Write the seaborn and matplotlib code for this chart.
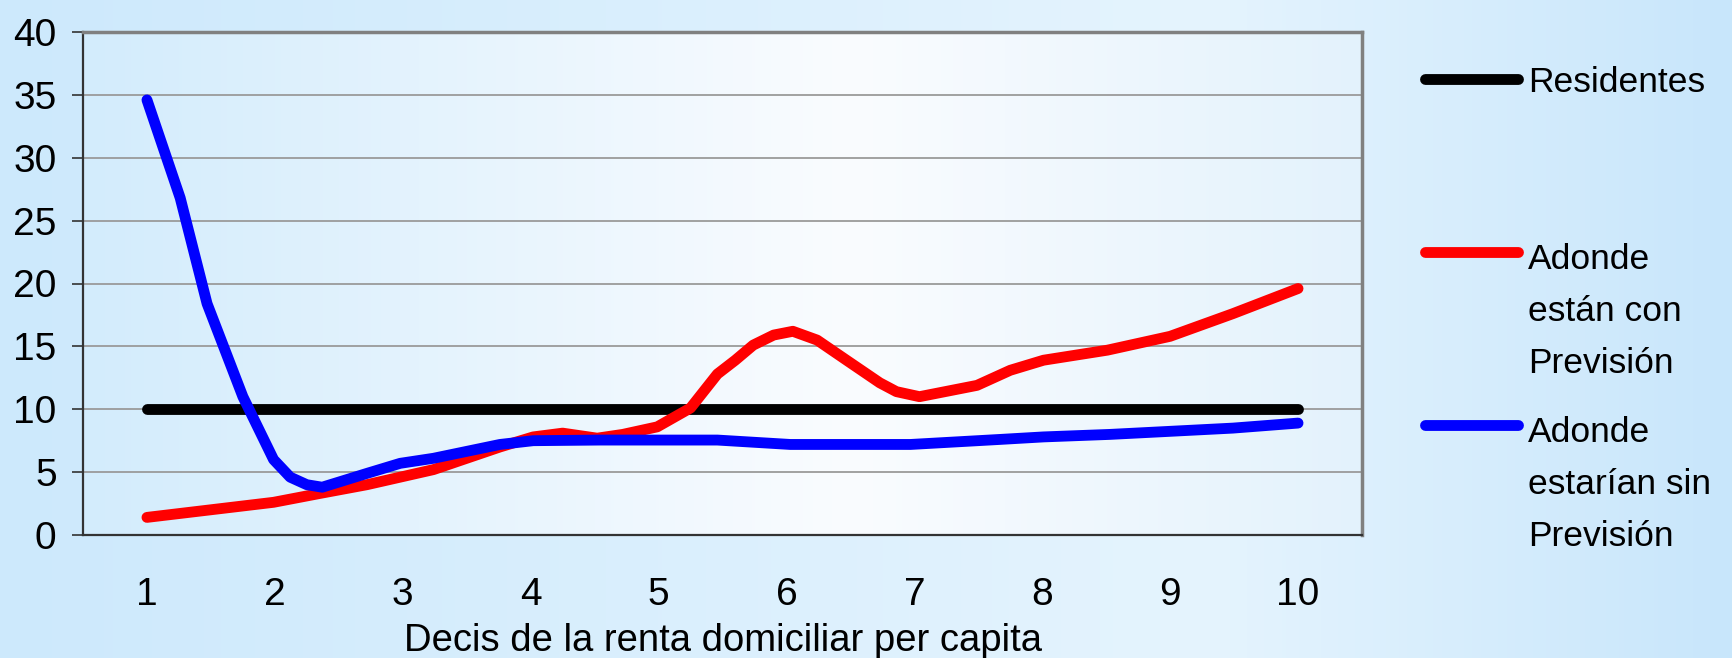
import numpy as np
import pandas as pd
import matplotlib
matplotlib.use("Agg")
import matplotlib.pyplot as plt
import seaborn as sns
from matplotlib.lines import Line2D

# ---------------- data ----------------
decile_ticks = list(range(1, 11))
decile_labels = [str(d) for d in decile_ticks]
y_ticks = [0, 5, 10, 15, 20, 25, 30, 35, 40]

series_names = ["Residentes", "Adonde están con Previsión", "Adonde estarían sin Previsión"]
legend_lines = [["Residentes"], ["Adonde", "están con", "Previsión"],
                ["Adonde", "estarían sin", "Previsión"]]
series_colors = ["#000000", "#FF0000", "#0000FF"]

residentes_x = [1, 2, 3, 4, 5, 6, 7, 8, 9, 10]
residentes_y = [10, 10, 10, 10, 10, 10, 10, 10, 10, 10]

con_x = [1.00, 1.99, 2.35, 2.72, 2.98, 3.24, 3.76, 4.02, 4.25, 4.52, 4.72, 4.99, 5.25,
         5.46, 5.60, 5.74, 5.90, 6.05, 6.24, 6.47, 6.73, 6.86, 7.04, 7.49, 7.75, 8.01,
         8.51, 9.00, 9.49, 10.0]
con_y = [1.4, 2.6, 3.3, 4.0, 4.6, 5.2, 7.0, 7.8, 8.1, 7.7, 8.0, 8.6, 10.1,
         12.8, 13.9, 15.1, 15.9, 16.2, 15.5, 13.9, 12.1, 11.4, 11.0, 11.9, 13.1, 13.9,
         14.7, 15.8, 17.6, 19.6]

sin_x = [1.00, 1.26, 1.47, 1.75, 1.99, 2.12, 2.25, 2.37, 2.72, 2.98, 3.24, 3.76, 4.02,
         4.54, 5.46, 6.03, 6.97, 7.67, 8.01, 8.53, 9.49, 10.0]
sin_y = [34.6, 26.8, 18.4, 11.0, 6.0, 4.6, 4.0, 3.8, 4.9, 5.7, 6.1, 7.2, 7.5,
         7.55, 7.55, 7.2, 7.2, 7.6, 7.8, 8.0, 8.5, 8.9]

x_title = "Decis de la renta domiciliar per capita"

df = pd.concat([
    pd.DataFrame({"decil": residentes_x, "valor": residentes_y, "serie": series_names[0]}),
    pd.DataFrame({"decil": con_x, "valor": con_y, "serie": series_names[1]}),
    pd.DataFrame({"decil": sin_x, "valor": sin_y, "serie": series_names[2]}),
], ignore_index=True)

# ---------------- style ----------------
sns.set_style("white")
plt.rcParams["font.family"] = ["Liberation Sans", "DejaVu Sans"]
plt.rcParams["text.color"] = "black"
plt.rcParams["xtick.color"] = "black"
plt.rcParams["ytick.color"] = "black"
plt.rcParams["axes.labelcolor"] = "black"

W, H = 1732, 658
fig = plt.figure(figsize=(W / 100, H / 100), dpi=100)

# figure background gradient
bg = fig.add_axes([0, 0, 1, 1], zorder=-10)
xs = np.linspace(0, 1, 400)
c0 = np.array([205, 233, 252]) / 255
c1 = np.array([229, 244, 254]) / 255
c2 = np.array([200, 230, 251]) / 255
cols = np.where(xs[:, None] < 0.7,
                c0 + (c1 - c0) * (xs[:, None] / 0.7),
                c1 + (c2 - c1) * ((xs[:, None] - 0.7) / 0.3))
bg.imshow(cols[None, :, :], extent=[0, 1, 0, 1], aspect="auto")
bg.set_axis_off()

ax = fig.add_axes([83 / W, 1 - 535 / H, (1362 - 83) / W, (535 - 32) / H])
ax.patch.set_visible(False)

# plot area gradient
pa0 = np.array([211, 236, 252]) / 255
pa1 = np.array([250, 252, 255]) / 255
pa2 = np.array([227, 242, 252]) / 255
cols2 = np.where(xs[:, None] < 0.6,
                 pa0 + (pa1 - pa0) * (xs[:, None] / 0.6),
                 pa1 + (pa2 - pa1) * ((xs[:, None] - 0.6) / 0.4))
ax.imshow(cols2[None, :, :], extent=[0, 1, 0, 1], aspect="auto",
          transform=ax.transAxes, zorder=0)

sns.lineplot(data=df, x="decil", y="valor", hue="serie", hue_order=series_names,
             palette=series_colors, estimator=None, sort=False, lw=7.8,
             legend=False, ax=ax, zorder=3)
for ln in ax.lines:
    ln.set_solid_capstyle("round")
    ln.set_solid_joinstyle("round")

ax.set_xlim(0.5, 10.5)
ax.set_ylim(0, 40)
ax.set_yticks(y_ticks)
ax.set_yticklabels([str(v) for v in y_ticks])
ax.set_xticks([d + 0.5 for d in [0] + decile_ticks])
ax.set_xticklabels([])
ax.set_xticks(decile_ticks, minor=True)
ax.set_xticklabels(decile_labels, minor=True)
ax.tick_params(axis="x", which="major", direction="out", length=8, width=1.2, color="#333333")
ax.tick_params(axis="x", which="minor", length=0, pad=30, labelsize=28)
ax.tick_params(axis="y", direction="out", length=8, width=1.2, color="#333333",
               pad=11, labelsize=28, left=True)
ax.grid(axis="y", color="#9a9a9a", lw=1.3, zorder=1)
ax.grid(axis="x", visible=False)
ax.set_axisbelow(True)

ax.set_xlabel(x_title, fontsize=27.5, va="center")
ax.xaxis.set_label_coords(0.5, (535 - 641) / (535 - 32))
ax.set_ylabel("")

for side in ["top", "right"]:
    ax.spines[side].set_color("#808080")
    ax.spines[side].set_linewidth(2.5)
for side in ["left", "bottom"]:
    ax.spines[side].set_color("#333333")
    ax.spines[side].set_linewidth(1.6)

# legend (manual, to mirror original layout)
leg_y = [79, 252, 425]
line_gap = 52
for lines, col, yy in zip(legend_lines, series_colors, leg_y):
    yf = 1 - yy / H
    fig.add_artist(Line2D([1425 / W, 1518 / W], [yf, yf], color=col, lw=7.8,
                          solid_capstyle="round", transform=fig.transFigure))
    first_off = 13 if len(lines) == 1 else 17
    for i, txt in enumerate(lines):
        base = yy + first_off + i * line_gap
        fig.text(1528 / W, 1 - base / H, txt, fontsize=25.5, va="baseline", ha="left")

fig.savefig("out.png", dpi=100)
